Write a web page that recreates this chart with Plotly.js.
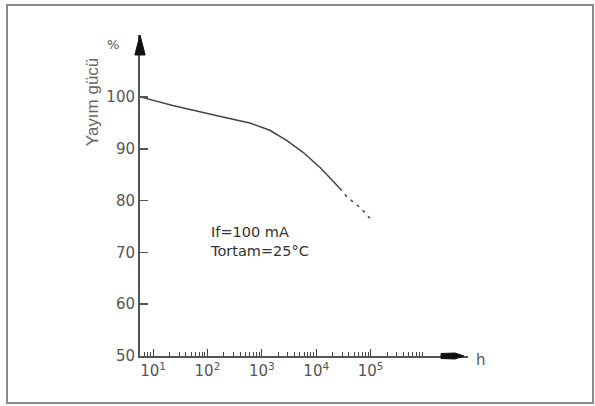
<!DOCTYPE html>
<html>
<head>
<meta charset="utf-8">
<script src="https://cdn.plot.ly/plotly-3.0.1.min.js"></script>
<style>
  html, body { margin: 0; padding: 0; background: #fff; }
  #wrap { position: relative; width: 595px; height: 406px; }
  #chart { position: absolute; left: 0; top: 0; width: 595px; height: 406px; }
  #frame { position: absolute; left: 6px; top: 4px; width: 584px; height: 396px;
           border: 2px solid #8a8a8a; pointer-events: none; }
</style>
</head>
<body>
<div id="wrap"><div id="chart"></div><div id="frame"></div></div>
<script>
// Data
const hoursSolid = [6, 23, 200, 600, 1400, 2900, 5800, 12000, 27000];
const powerSolid = [100, 98.4, 96.1, 95.0, 93.6, 91.6, 89.3, 86.3, 82.4];
const hoursDash = [27000, 37000, 64000, 97000];
const powerDash = [82.4, 80.7, 78.7, 76.6];

const yTicks = [50, 60, 70, 80, 90, 100];
const xTickVals = [10, 100, 1000, 10000, 100000];
const xTickText = ['10<sup>1</sup>', '10<sup>2</sup>', '10<sup>3</sup>', '10<sup>4</sup>', '10<sup>5</sup>'];
const minorVals = [];
[1, 10, 100, 1000, 10000, 100000].forEach(d => {
  for (let m = 2; m <= 9; m++) minorVals.push(m * d);
});

const axisColor = '#555';
const font = {family: 'DejaVu Sans, Verdana, sans-serif', size: 15, color: '#555'};

const traces = [
  {x: hoursSolid, y: powerSolid, type: 'scatter', mode: 'lines',
   line: {color: '#444', width: 1.5}, hoverinfo: 'skip'},
  {x: hoursDash, y: powerDash, type: 'scatter', mode: 'lines',
   line: {color: '#444', width: 1.5, dash: '3px,5px'}, hoverinfo: 'skip'}
];

const layout = {
  width: 595, height: 406,
  margin: {l: 140, r: 127, t: 35, b: 50},
  paper_bgcolor: 'rgba(0,0,0,0)', plot_bgcolor: 'rgba(0,0,0,0)',
  showlegend: false,
  font: font,
  xaxis: {
    type: 'log', range: [0.76, 6.79],
    showgrid: false, zeroline: false,
    showline: true, linecolor: axisColor, linewidth: 2,
    ticks: 'inside', ticklen: 7, tickwidth: 1, tickcolor: '#444',
    tickmode: 'array', tickvals: xTickVals, ticktext: xTickText,
    tickfont: font,
    minor: {ticks: 'inside', ticklen: 4, tickwidth: 1, tickcolor: '#444',
            tickmode: 'array', tickvals: minorVals, showgrid: false}
  },
  yaxis: {
    range: [50, 112],
    showgrid: false, zeroline: false,
    showline: true, linecolor: axisColor, linewidth: 2,
    ticks: 'inside', ticklen: 8, tickwidth: 1.5, tickcolor: '#555',
    tickmode: 'array', tickvals: yTicks,
    tickfont: font
  },
  shapes: [
    {type: 'path', xref: 'paper', yref: 'paper',
     path: 'M -0.0158 0.9377 L 0 1.0 L 0.0158 0.9377 Z',
     fillcolor: '#111', line: {color: '#111', width: 1}},
    {type: 'path', xref: 'paper', yref: 'paper',
     path: 'M 0.9177 -0.0078 L 0.9604 -0.0093 L 0.9878 0 L 0.9604 0.0093 L 0.9177 0.0078 Z',
     fillcolor: '#111', line: {color: '#111', width: 1}}
  ],
  annotations: [
    {text: '%', xref: 'paper', yref: 'paper', x: -0.082, y: 0.969,
     xanchor: 'center', yanchor: 'middle',
     showarrow: false, font: {family: 'DejaVu Sans, sans-serif', size: 13, color: '#555'}},
    {text: 'Yayım gücü', xref: 'paper', yref: 'paper', x: -0.146, y: 0.791,
     xanchor: 'center', yanchor: 'middle',
     textangle: -90, showarrow: false,
     font: {family: 'Liberation Sans, Arial, sans-serif', size: 17, color: '#666'}},
    {text: 'h', xref: 'paper', yref: 'paper', x: 1.0396, y: -0.0125,
     xanchor: 'center', yanchor: 'middle',
     showarrow: false, font: {family: 'DejaVu Sans, sans-serif', size: 15, color: '#555'}},
    {text: 'If=100 mA<br>Tortam=25°C', xref: 'paper', yref: 'paper',
     x: 0.207, y: 0.358, xanchor: 'left', yanchor: 'middle', align: 'left',
     showarrow: false, font: {family: 'DejaVu Sans, sans-serif', size: 14.5, color: '#333'}}
  ]
};

Plotly.newPlot('chart', traces, layout, {staticPlot: true, displayModeBar: false});
</script>
</body>
</html>
